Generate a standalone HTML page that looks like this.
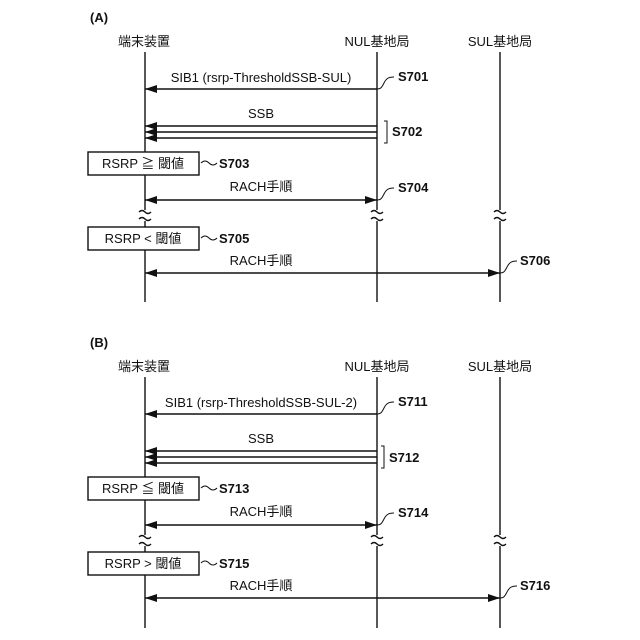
<!DOCTYPE html>
<html><head><meta charset="utf-8"><style>
html,body{margin:0;padding:0;background:#fff}
svg{display:block}
text{font-family:"Liberation Sans","Noto Sans CJK JP",sans-serif;font-size:13px;fill:#111}
.b{font-weight:bold}
</style></head><body>
<svg width="640" height="640" viewBox="0 0 640 640" xmlns="http://www.w3.org/2000/svg">
<defs>
<marker id="ah" markerWidth="12" markerHeight="8" refX="12" refY="4" orient="auto-start-reverse" markerUnits="userSpaceOnUse">
<path d="M0,0 L12,4 L0,8 z" fill="#111"/>
</marker>
</defs>
<g stroke="#111" stroke-width="1.4" fill="none">
<!-- A lifelines -->
<line x1="145" y1="52" x2="145" y2="152"/>
<line x1="145" y1="175" x2="145" y2="210"/>
<line x1="145" y1="221" x2="145" y2="227"/>
<line x1="145" y1="250" x2="145" y2="302"/>
<line x1="377" y1="52" x2="377" y2="210"/>
<line x1="377" y1="221" x2="377" y2="302"/>
<line x1="500" y1="52" x2="500" y2="210"/>
<line x1="500" y1="221" x2="500" y2="302"/>
<!-- B lifelines -->
<line x1="145" y1="377" x2="145" y2="477"/>
<line x1="145" y1="500" x2="145" y2="535"/>
<line x1="145" y1="546" x2="145" y2="552"/>
<line x1="145" y1="575" x2="145" y2="628"/>
<line x1="377" y1="377" x2="377" y2="535"/>
<line x1="377" y1="546" x2="377" y2="628"/>
<line x1="500" y1="377" x2="500" y2="535"/>
<line x1="500" y1="546" x2="500" y2="628"/>
<!-- break marks -->
<path d="M139,212 q3,-3 6,0 t6,0 M139,219 q3,-3 6,0 t6,0"/>
<path d="M371,212 q3,-3 6,0 t6,0 M371,219 q3,-3 6,0 t6,0"/>
<path d="M494,212 q3,-3 6,0 t6,0 M494,219 q3,-3 6,0 t6,0"/>
<path d="M139,537 q3,-3 6,0 t6,0 M139,544 q3,-3 6,0 t6,0"/>
<path d="M371,537 q3,-3 6,0 t6,0 M371,544 q3,-3 6,0 t6,0"/>
<path d="M494,537 q3,-3 6,0 t6,0 M494,544 q3,-3 6,0 t6,0"/>
<!-- A arrows -->
<line x1="377" y1="89" x2="145" y2="89" marker-end="url(#ah)"/>
<line x1="377" y1="126" x2="145" y2="126" marker-end="url(#ah)"/>
<line x1="377" y1="132" x2="145" y2="132" marker-end="url(#ah)"/>
<line x1="377" y1="138" x2="145" y2="138" marker-end="url(#ah)"/>
<line x1="145" y1="200" x2="377" y2="200" marker-start="url(#ah)" marker-end="url(#ah)"/>
<line x1="145" y1="273" x2="500" y2="273" marker-start="url(#ah)" marker-end="url(#ah)"/>
<!-- B arrows -->
<line x1="377" y1="414" x2="145" y2="414" marker-end="url(#ah)"/>
<line x1="377" y1="451" x2="145" y2="451" marker-end="url(#ah)"/>
<line x1="377" y1="457" x2="145" y2="457" marker-end="url(#ah)"/>
<line x1="377" y1="463" x2="145" y2="463" marker-end="url(#ah)"/>
<line x1="145" y1="525" x2="377" y2="525" marker-start="url(#ah)" marker-end="url(#ah)"/>
<line x1="145" y1="598" x2="500" y2="598" marker-start="url(#ah)" marker-end="url(#ah)"/>
<!-- brackets -->
<path d="M384,121 h3 v22 h-3" stroke-width="1"/>
<path d="M381,446 h3 v22 h-3" stroke-width="1"/>
<!-- boxes -->
<rect x="88" y="152" width="111" height="23" fill="#fff"/>
<rect x="88" y="227" width="111" height="23" fill="#fff"/>
<rect x="88" y="477" width="111" height="23" fill="#fff"/>
<rect x="88" y="552" width="111" height="23" fill="#fff"/>
<!-- leaders -->
<g stroke-width="1">
<path d="M377,89 c4,0 5,-2 7,-6 c2,-4 4,-6 10,-6"/>
<path d="M377,200 c4,0 5,-2 7,-6 c2,-4 4,-6 10,-6"/>
<path d="M500,273 c4,0 5,-2 7,-6 c2,-4 4,-6 10,-6"/>
<path d="M377,414 c4,0 5,-2 7,-6 c2,-4 4,-6 10,-6"/>
<path d="M377,525 c4,0 5,-2 7,-6 c2,-4 4,-6 10,-6"/>
<path d="M500,598 c4,0 5,-2 7,-6 c2,-4 4,-6 10,-6"/>
<path d="M201,163 q4,-4 8,0 t8,0"/>
<path d="M201,238 q4,-4 8,0 t8,0"/>
<path d="M201,488 q4,-4 8,0 t8,0"/>
<path d="M201,563 q4,-4 8,0 t8,0"/>
</g>
</g>
<!-- labels -->
<text x="90" y="22" class="b">(A)</text>
<text x="90" y="347" class="b">(B)</text>
<g text-anchor="middle">
<text x="144" y="46">端末装置</text>
<text x="377" y="46">NUL基地局</text>
<text x="500" y="46">SUL基地局</text>
<text x="144" y="371">端末装置</text>
<text x="377" y="371">NUL基地局</text>
<text x="500" y="371">SUL基地局</text>
<text x="261" y="82">SIB1 (rsrp-ThresholdSSB-SUL)</text>
<text x="261" y="118">SSB</text>
<text x="261" y="191">RACH手順</text>
<text x="261" y="265">RACH手順</text>
<text x="261" y="407">SIB1 (rsrp-ThresholdSSB-SUL-2)</text>
<text x="261" y="443">SSB</text>
<text x="261" y="516">RACH手順</text>
<text x="261" y="590">RACH手順</text>
<text x="143" y="168">RSRP ≧ 閾値</text>
<text x="143" y="243">RSRP &lt; 閾値</text>
<text x="143" y="493">RSRP ≦ 閾値</text>
<text x="143" y="568">RSRP &gt; 閾値</text>
</g>
<g class="b">
<text x="398" y="81" class="b">S701</text>
<text x="392" y="136" class="b">S702</text>
<text x="219" y="168" class="b">S703</text>
<text x="398" y="192" class="b">S704</text>
<text x="219" y="243" class="b">S705</text>
<text x="520" y="265" class="b">S706</text>
<text x="398" y="406" class="b">S711</text>
<text x="389" y="462" class="b">S712</text>
<text x="219" y="493" class="b">S713</text>
<text x="398" y="517" class="b">S714</text>
<text x="219" y="568" class="b">S715</text>
<text x="520" y="590" class="b">S716</text>
</g>
</svg>
</body></html>
